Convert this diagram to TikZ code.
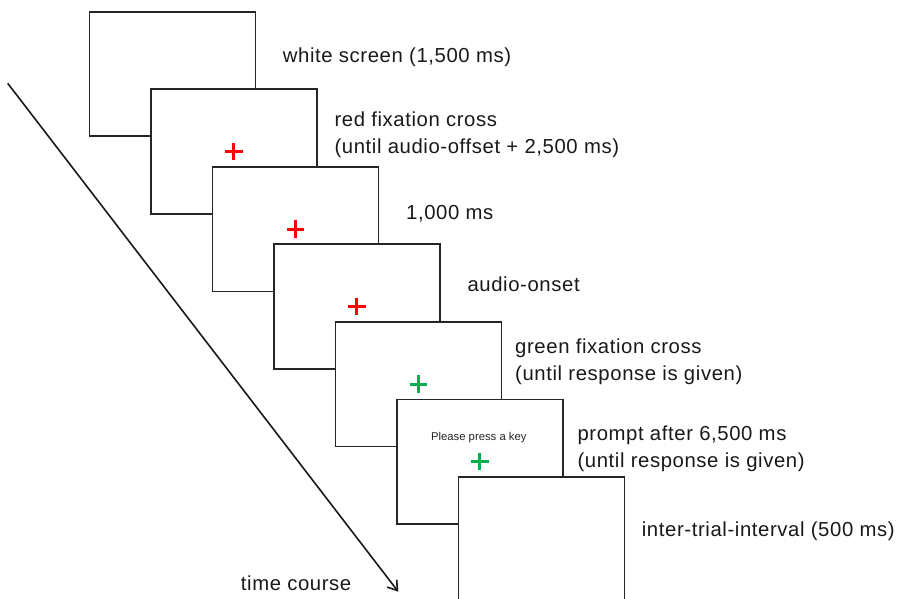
\documentclass[tikz,border=0pt]{standalone}
\usepackage{fontspec}
\setmainfont{Liberation Sans}[LetterSpace=3]
\newfontfamily\promptfont{Liberation Sans}
\usetikzlibrary{arrows.meta}
\definecolor{crossred}{RGB}{255,0,0}
\definecolor{crossgreen}{RGB}{0,176,80}
\tikzset{
  screen/.style={draw=black!85, line width=1.8pt, fill=white, minimum width=166pt, minimum height=124.5pt, inner sep=0pt, anchor=north west},
  lbl/.style={anchor=base west, inner sep=0pt, font=\fontsize{20.3}{24}\selectfont, text=black!90},
  redcross/.style={draw=crossred, line width=3pt},
  greencross/.style={draw=crossgreen, line width=3pt},
  timearrow/.style={draw=black!90, line width=1.6pt, -{Straight Barb[length=9pt,width=12pt,line width=1.6pt]}},
}
\begin{document}
\begin{tikzpicture}[x=1pt,y=-1pt]
\useasboundingbox (0,0) rectangle (898,599);
\fill[white] (0,0) rectangle (898,599);
% time arrow
\coordinate (ts) at (7.7,83.3);
\coordinate (te) at (398.3,591.7);
\draw[timearrow] (ts) -- (te);
\node[lbl] (tc) at (240.7,590) {time course};
% screens
\node[screen] (b1) at (88.5,11) {};
\node[screen] (b2) at (150,88.5) {};
\node[screen] (b3) at (211.5,166) {};
\node[screen] (b4) at (273,243.5) {};
\node[screen] (b5) at (334.5,321) {};
\node[screen] (b6) at (396,398.5) {};
\node[screen] (b7) at (457.5,476) {};
% crosses
\draw[redcross] ([xshift=-8.7pt]b2.center) -- ([xshift=8.7pt]b2.center) ([yshift=-8.7pt]b2.center) -- ([yshift=8.7pt]b2.center);
\draw[redcross] ([xshift=-8.7pt]b3.center) -- ([xshift=8.7pt]b3.center) ([yshift=-8.7pt]b3.center) -- ([yshift=8.7pt]b3.center);
\draw[redcross] ([xshift=-8.7pt]b4.center) -- ([xshift=8.7pt]b4.center) ([yshift=-8.7pt]b4.center) -- ([yshift=8.7pt]b4.center);
\draw[greencross] ([xshift=-8.7pt]b5.center) -- ([xshift=8.7pt]b5.center) ([yshift=-8.7pt]b5.center) -- ([yshift=8.7pt]b5.center);
\draw[greencross] ([xshift=-8.7pt]b6.center) -- ([xshift=8.7pt]b6.center) ([yshift=-8.7pt]b6.center) -- ([yshift=8.7pt]b6.center);
\node[anchor=base, inner sep=0pt, font=\promptfont\fontsize{11.3}{13}\selectfont, text=black!85] (pk) at (478.8,440.7) {Please press a key};
% labels
\node[lbl] (l1) at (282.7,62.7) {white screen (1,500 ms)};
\node[lbl] (l2a) at (334.3,127) {red fixation cross};
\node[lbl] (l2b) at (334.3,154) {(until audio-offset + 2,500 ms)};
\node[lbl] (l3) at (406,220) {1,000 ms};
\node[lbl] (l4) at (467.3,291.7) {audio-onset};
\node[lbl] (l5a) at (515,353.3) {green fixation cross};
\node[lbl] (l5b) at (515,380) {(until response is given)};
\node[lbl] (l6a) at (577.3,440.7) {prompt after 6,500 ms};
\node[lbl] (l6b) at (577.3,467.4) {(until response is given)};
\node[lbl] (l7) at (641.7,536.7) {inter-trial-interval (500 ms)};
\end{tikzpicture}
\end{document}
